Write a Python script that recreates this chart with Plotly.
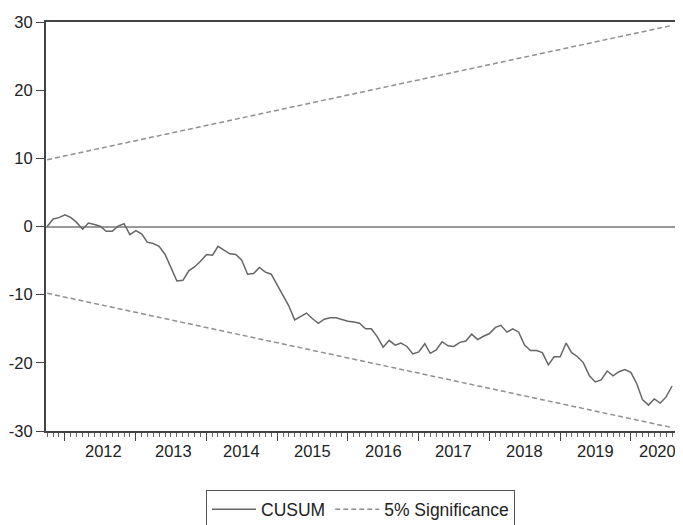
import pandas as pd
import plotly.graph_objects as go

# Monthly CUSUM statistic, Oct 2011 .. Aug 2020
start_month = "2011-10-01"
cusum = [
    0.0, 1.1, 1.3, 1.7, 1.3, 0.6, -0.4, 0.5, 0.3, 0.05,
    -0.7, -0.7, 0.05, 0.4, -1.2, -0.6, -1.1, -2.3, -2.5, -2.9,
    -4.1, -6.0, -8.0, -7.9, -6.5, -5.9, -5.1, -4.1, -4.2, -2.9,
    -3.4, -4.0, -4.1, -4.9, -7.0, -6.9, -6.0, -6.7, -7.0, -8.6,
    -10.1, -11.6, -13.7, -13.2, -12.7, -13.5, -14.2, -13.6, -13.4, -13.4,
    -13.7, -13.9, -14.0, -14.2, -15.0, -15.0, -16.2, -17.7, -16.7, -17.4,
    -17.1, -17.6, -18.7, -18.4, -17.2, -18.6, -18.1, -16.9, -17.5, -17.6,
    -17.0, -16.8, -15.8, -16.6, -16.1, -15.7, -14.8, -14.5, -15.5, -15.0,
    -15.5, -17.4, -18.2, -18.2, -18.5, -20.3, -19.1, -19.1, -17.1, -18.5,
    -19.1, -20.0, -21.9, -22.8, -22.5, -21.2, -21.9, -21.3, -21.0, -21.4,
    -23.1, -25.4, -26.2, -25.3, -25.9, -25.0, -23.4,
]
# 5% significance bounds at first and last observation
sig_upper = [9.8, 29.5]
sig_lower = [-9.8, -29.5]

y_tick_vals = [-30, -20, -10, 0, 10, 20, 30]
y_tick_text = ["-30", "-20", "-10", "0", "10", "20", "30"]

year_labels = ["2012", "2013", "2014", "2015", "2016", "2017", "2018", "2019", "2020"]
year_label_dates = ["2012-07-20", "2013-07-15", "2014-07-01", "2015-07-01",
                    "2016-07-01", "2017-07-01", "2018-07-01", "2019-07-01",
                    "2020-05-20"]

dates = pd.date_range(start_month, periods=len(cusum), freq="MS")
sig_dates = [dates[0], dates[-1]]

FONT = "Liberation Sans, Arial, Helvetica, sans-serif"
TXT = "#222222"

fig = go.Figure()
fig.add_trace(go.Scatter(
    x=dates, y=cusum, mode="lines", name="CUSUM",
    line=dict(color="#666666", width=1.5),
))
fig.add_trace(go.Scatter(
    x=sig_dates, y=sig_upper, mode="lines", name="5% Significance",
    line=dict(color="#909090", width=1.5, dash="5px,3px"),
))
fig.add_trace(go.Scatter(
    x=sig_dates, y=sig_lower, mode="lines", name="5% Significance",
    showlegend=False,
    line=dict(color="#909090", width=1.5, dash="5px,3px"),
))

for lab, d in zip(year_labels, year_label_dates):
    fig.add_annotation(
        x=d, y=0, xref="x", yref="paper", text=lab, showarrow=False,
        xanchor="center", yanchor="top", yshift=-9,
        font=dict(family=FONT, size=16.5, color=TXT),
    )

# The page body adds an 8px offset, so margins are shifted to compensate.
fig.update_layout(
    width=683, height=525,
    margin=dict(l=38, r=16, t=14, b=102, autoexpand=False),
    paper_bgcolor="white", plot_bgcolor="white",
    font=dict(family=FONT, size=16.5, color=TXT),
    showlegend=True,
    legend=dict(
        orientation="h", x=0.5, xanchor="center",
        y=-0.145, yanchor="top",
        bordercolor="#555555", borderwidth=1, bgcolor="white",
        font=dict(family=FONT, size=17.5, color=TXT),
        itemwidth=44, tracegroupgap=0,
    ),
)
fig.update_xaxes(
    type="date", automargin=False,
    range=[dates[0] - pd.Timedelta(days=6), dates[-1] + pd.Timedelta(days=15)],
    tick0="2012-01-01", dtick="M12", showticklabels=False,
    ticks="outside", ticklen=8, tickwidth=1, tickcolor="#444444",
    minor=dict(dtick="M1", tick0="2011-10-01", ticks="outside", ticklen=4,
               tickwidth=1, tickcolor="#666666", showgrid=False),
    showline=True, linecolor="#444444", linewidth=2, mirror=True,
    showgrid=False, zeroline=False,
)
fig.update_yaxes(
    range=[-30, 30], tickvals=y_tick_vals, ticktext=y_tick_text, automargin=False,
    ticks="outside", ticklen=8, tickwidth=1, tickcolor="#444444",
    showline=True, linecolor="#444444", linewidth=2, mirror=True,
    showgrid=False, zeroline=True, zerolinecolor="#9a9a9a", zerolinewidth=2,
)

fig.write_html("out.html")
